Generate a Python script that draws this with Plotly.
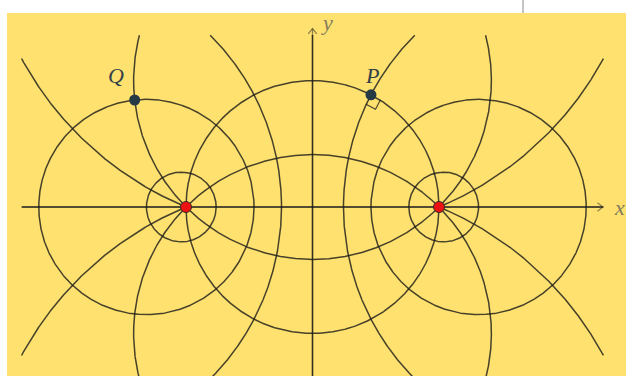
import numpy as np
import plotly.graph_objects as go

# ---- data (bipolar coordinate system, focal half-distance a = 1) ----
A = 1.0
tau_values = [-2.0, -1.0, -0.5, 0.5, 1.0, 2.0]
sigma_values = [np.pi / 8, np.pi / 4, np.pi / 2, 3 * np.pi / 4,
                -np.pi / 8, -np.pi / 4, -np.pi / 2, -3 * np.pi / 4]
foci_x = [-A, A]
foci_y = [0.0, 0.0]
point_labels = ["Q", "P"]
point_tau = [-1.0, 0.5]
point_sigma = [np.pi / 4, np.pi / 2]
clip_x = 2.3
clip_y = 1.36
axis_x_end = 2.295
axis_y_end = 1.41

# ---- styles ----
BG = "#FEE16E"
CURVE = "rgba(25,25,25,0.8)"
AXIS = "rgba(60,55,40,0.55)"
DOT = "#253a44"
FOCUS = "#ee1111"


def bipolar(tau, sigma):
    d = np.cosh(tau) - np.cos(sigma)
    return A * np.sinh(tau) / d, A * np.sin(sigma) / d


def clip(x, y):
    x = np.array(x, dtype=float)
    y = np.array(y, dtype=float)
    m = (np.abs(x) <= clip_x) & (np.abs(y) <= clip_y)
    x[~m] = np.nan
    y[~m] = np.nan
    return x, y


fig = go.Figure()

# axes (light) with chevron arrows
ax_x = [-axis_x_end, axis_x_end, None, axis_x_end - 0.042, axis_x_end, axis_x_end - 0.042]
ax_y = [0, 0, None, 0.034, 0, -0.034]
ay_x = [0, 0, None, -0.034, 0, 0.034]
ay_y = [-1.6, axis_y_end, None, axis_y_end - 0.042, axis_y_end, axis_y_end - 0.042]
fig.add_trace(go.Scatter(x=ax_x, y=ax_y, mode="lines", line=dict(color=AXIS, width=1.3),
                         hoverinfo="skip", showlegend=False))
fig.add_trace(go.Scatter(x=ay_x, y=ay_y, mode="lines", line=dict(color=AXIS, width=1.3),
                         hoverinfo="skip", showlegend=False))

# coordinate lines tau = 0 and sigma = 0, pi (the axes inside the clip box)
fig.add_trace(go.Scatter(x=[-clip_x, clip_x], y=[0, 0], mode="lines",
                         line=dict(color=CURVE, width=1.5), hoverinfo="skip", showlegend=False))
fig.add_trace(go.Scatter(x=[0, 0], y=[-clip_y, clip_y], mode="lines",
                         line=dict(color=CURVE, width=1.5), hoverinfo="skip", showlegend=False))

# tau circles
sig = np.linspace(-np.pi, np.pi, 4001)
for t in tau_values:
    x, y = clip(*bipolar(t, sig))
    fig.add_trace(go.Scatter(x=x, y=y, mode="lines", line=dict(color=CURVE, width=1.5),
                             hoverinfo="skip", showlegend=False))

# sigma arcs
taus = np.linspace(-12, 12, 16001)
for s in sigma_values:
    x, y = clip(*bipolar(taus, s))
    fig.add_trace(go.Scatter(x=x, y=y, mode="lines", line=dict(color=CURVE, width=1.5),
                             hoverinfo="skip", showlegend=False))

# points Q, P
px, py = bipolar(np.array(point_tau), np.array(point_sigma))

# right-angle mark at P
P = np.array([px[1], py[1]])
u1 = np.array([P[1], -P[0]])          # tangent of sigma circle (clockwise)
u2 = -P / np.linalg.norm(P)           # tangent of tau circle (inward)
s = 0.085
sq = [P + s * u1, P + s * (u1 + u2), P + s * u2]
fig.add_trace(go.Scatter(x=[c[0] for c in sq], y=[c[1] for c in sq], mode="lines",
                         line=dict(color=CURVE, width=1.1), hoverinfo="skip", showlegend=False))

fig.add_trace(go.Scatter(x=px, y=py, mode="markers",
                         marker=dict(color=DOT, size=11, line=dict(width=0)),
                         hoverinfo="skip", showlegend=False))
fig.add_trace(go.Scatter(x=foci_x, y=foci_y, mode="markers",
                         marker=dict(color=FOCUS, size=11, line=dict(color="#3a2a20", width=1)),
                         hoverinfo="skip", showlegend=False))

# labels
label_off = [(-0.145, 0.19), (0.005, 0.15)]
for lab, x0, y0, (dx, dy) in zip(point_labels, px, py, label_off):
    fig.add_annotation(x=x0 + dx, y=y0 + dy, text="<i>%s</i>" % lab, showarrow=False,
                       font=dict(family="Liberation Serif", size=22, color="#33404a"),
                       xanchor="center", yanchor="middle")
fig.add_annotation(x=axis_x_end + 0.13, y=0.0, text="<i>x</i>", showarrow=False,
                   font=dict(family="Liberation Serif", size=22, color="#847b5e"),
                   xanchor="center", yanchor="middle")
fig.add_annotation(x=0.115, y=axis_y_end + 0.05, text="<i>y</i>", showarrow=False,
                   font=dict(family="Liberation Serif", size=22, color="#847b5e"),
                   xanchor="center", yanchor="middle")

W, H = 626, 376
SC = 126.5
OX, OY = 312.5, 207.0
fig.update_layout(
    width=W, height=H, margin=dict(l=0, r=0, t=0, b=0),
    paper_bgcolor="white", plot_bgcolor="rgba(0,0,0,0)",
    xaxis=dict(range=[-OX / SC, (W - OX) / SC], visible=False, fixedrange=True),
    yaxis=dict(range=[(OY - H) / SC, OY / SC], visible=False, fixedrange=True),
    shapes=[
        dict(type="rect", xref="paper", yref="paper", x0=7 / W, x1=1, y0=0, y1=1 - 13 / H,
             fillcolor=BG, line=dict(width=0), layer="below"),
        dict(type="line", xref="paper", yref="paper", x0=523 / W, x1=523 / W,
             y0=1 - 13 / H, y1=1, line=dict(color="#8a8a8a", width=1)),
    ],
)

fig.write_html("out.html")
